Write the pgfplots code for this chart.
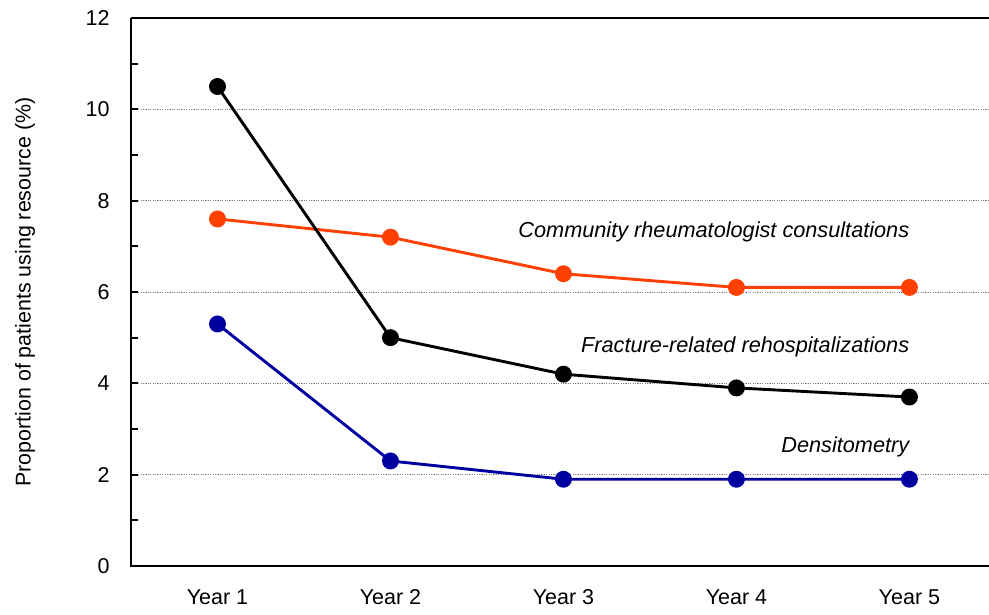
\documentclass[border=0pt]{standalone}
\usepackage{fontspec}
\setmainfont{Liberation Sans}
\usepackage{pgfplots}
\pgfplotsset{compat=1.18}
\definecolor{commcol}{RGB}{255,64,0}
\definecolor{denscol}{RGB}{0,0,160}
\begin{document}
\begin{tikzpicture}
\begin{axis}[
    name=ax,
    scale only axis,
    width=858pt, height=548pt,
    xmin=0.5, xmax=5.46,
    ymin=0, ymax=12,
    axis line style={draw=none},
    xtick={1,2,3,4,5},
    xticklabels={Year 1,Year 2,Year 3,Year 4,Year 5},
    xtick style={draw=none},
    ytick={0,2,4,6,8,10,12},
    minor ytick={1,3,5,7,9,11},
    ytick pos=left,
    tick align=inside,
    major tick length=7pt,
    minor tick length=7pt,
    every tick/.style={black, line width=1.8pt},
    ymajorgrids,
    major grid style={gray, line width=0.8pt, dash pattern=on 1.2pt off 1.2pt},
    /pgf/number format/assume math mode=true,
    tick label style={font=\fontsize{21.5}{25}\selectfont},
    yticklabel style={xshift=-18pt},
    xticklabel style={yshift=-20pt, text depth=0pt},
    ylabel={Proportion of patients using resource (\%)},
    every axis y label/.style={at={(axis description cs:0,0.5)}, xshift=-106pt, rotate=90, anchor=center, font=\fontsize{21.4}{25}\selectfont},
    clip=false,
    every axis plot/.append style={line width=2.9pt, mark=*, mark size=7pt},
]
\draw[line width=1.8pt] (rel axis cs:0,1) -- (rel axis cs:0,0) -- (rel axis cs:1,0);
\draw[line width=1.8pt] (rel axis cs:0,1) -- (rel axis cs:1,1);
\addplot[commcol, mark options={fill=commcol, draw=commcol}] coordinates {(1,7.6) (2,7.2) (3,6.4) (4,6.1) (5,6.1)};
\addplot[black, mark options={fill=black}] coordinates {(1,10.5) (2,5.0) (3,4.2) (4,3.9) (5,3.7)};
\addplot[denscol, mark options={fill=denscol, draw=denscol}] coordinates {(1,5.3) (2,2.3) (3,1.9) (4,1.9) (5,1.9)};
\node[anchor=east, font=\fontsize{21.7}{25}\selectfont\itshape, inner sep=0pt] at (axis cs:5,7.31) {Community rheumatologist consultations};
\node[anchor=east, font=\fontsize{21.7}{25}\selectfont\itshape, inner sep=0pt] at (axis cs:5,4.8) {Fracture-related rehospitalizations};
\node[anchor=east, font=\fontsize{21.7}{25}\selectfont\itshape, inner sep=0pt] at (axis cs:5,2.6) {Densitometry};
\end{axis}
\pgfresetboundingbox
\path ([shift={(-131pt,-48pt)}]ax.south west) rectangle ([shift={(0pt,18pt)}]ax.north east);
\end{tikzpicture}
\end{document}
